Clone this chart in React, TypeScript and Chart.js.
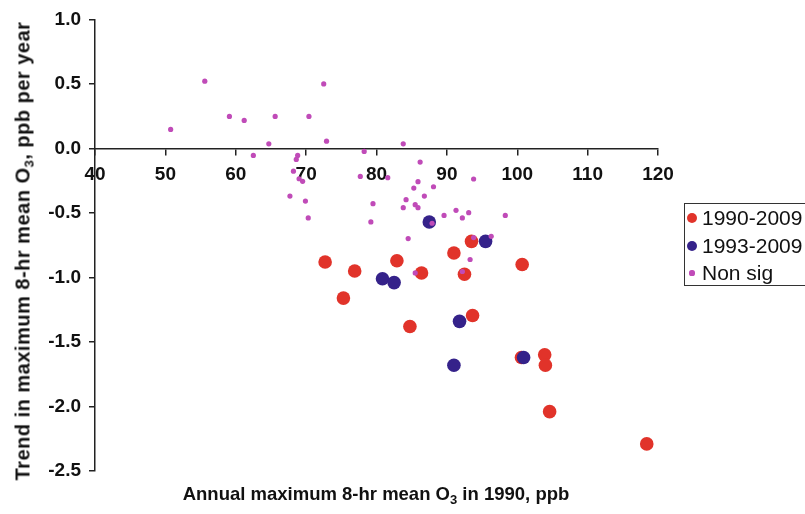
import React, { useEffect, useRef } from "react";
import { Chart, registerables } from "chart.js";

Chart.register(...registerables);

const FONT = '"Liberation Sans", Arial, Helvetica, sans-serif';

// Axis ranges / ticks
const xMin = 40;
const xMax = 120;
const xStep = 10;
const yMin = -2.5;
const yMax = 1.0;
const yStep = 0.5;

// Series labels
const seriesLabels = ["1990-2009", "1993-2009", "Non sig"];
const seriesColors = ["#E1332A", "#35228A", "#C04BB8"];

// 1990-2009 significant trends
const sig1990X = [72.7, 75.3, 76.9, 82.9, 84.75, 86.4, 91.0, 92.5, 93.5, 93.65, 100.6, 100.7, 103.9, 104.0, 104.6, 118.4];
const sig1990Y = [-0.88, -1.16, -0.95, -0.87, -1.38, -0.965, -0.81, -0.975, -0.72, -1.295, -1.62, -0.9, -1.6, -1.68, -2.04, -2.29];

// 1993-2009 significant trends
const sig1993X = [80.85, 82.5, 87.5, 91.0, 91.8, 95.5, 100.9];
const sig1993Y = [-1.01, -1.04, -0.57, -1.68, -1.34, -0.72, -1.62];

// Non significant trends
const nonSigX = [
  50.75, 55.6, 59.1, 61.2, 62.5, 64.7, 65.6, 67.7, 68.2, 68.6, 68.8, 69.0, 69.5, 69.9, 70.3, 70.4,
  72.5, 72.9, 77.7, 78.25, 79.2, 79.5, 81.6, 83.8, 83.8, 84.2, 84.5, 85.3, 85.5, 85.5, 85.9, 85.9,
  86.2, 86.8, 87.9, 88.1, 89.6, 91.3, 92.2, 92.2, 93.1, 93.3, 93.8, 93.8, 96.3, 98.3,
];
const nonSigY = [
  0.147, 0.521, 0.248, 0.217, -0.054, 0.036, 0.248, -0.369, -0.176, -0.085, -0.054, -0.235, -0.255, -0.408, -0.539, 0.248,
  0.5, 0.056, -0.217, -0.023, -0.57, -0.428, -0.227, 0.036, -0.459, -0.397, -0.699, -0.307, -0.436, -0.965, -0.258, -0.459,
  -0.106, -0.369, -0.58, -0.297, -0.519, -0.48, -0.539, -0.954, -0.498, -0.861, -0.237, -0.691, -0.681, -0.519,
];

const zip = (xs: number[], ys: number[]) => xs.map((x, i) => ({ x, y: ys[i] }));

export default function App() {
  const canvasRef = useRef<HTMLCanvasElement | null>(null);

  useEffect(() => {
    const canvas = canvasRef.current;
    if (!canvas) return;
    const axisColor = "#222";
    const tickFont = { family: FONT, size: 19, weight: "bold" as const };
    const chart = new Chart(canvas, {
      type: "scatter",
      data: {
        datasets: [
          {
            label: seriesLabels[0],
            data: zip(sig1990X, sig1990Y),
            backgroundColor: seriesColors[0],
            borderWidth: 0,
            pointRadius: 6.8,
            order: 3,
          },
          {
            label: seriesLabels[1],
            data: zip(sig1993X, sig1993Y),
            backgroundColor: seriesColors[1],
            borderWidth: 0,
            pointRadius: 6.8,
            order: 2,
          },
          {
            label: seriesLabels[2],
            data: zip(nonSigX, nonSigY),
            backgroundColor: seriesColors[2],
            borderWidth: 0,
            pointRadius: 2.6,
            order: 1,
          },
        ],
      },
      options: {
        animation: false,
        responsive: false,
        devicePixelRatio: 1,
        events: [],
        layout: { padding: { left: 0, top: 19, right: 147, bottom: 43 } },
        plugins: { legend: { display: false }, tooltip: { enabled: false } },
        scales: {
          x: {
            type: "linear",
            position: { y: 0 } as any,
            min: xMin,
            max: xMax,
            ticks: { stepSize: xStep, font: tickFont, color: "#111", padding: 9 },
            grid: { drawOnChartArea: false, drawTicks: true, tickLength: 6, color: axisColor, lineWidth: 1.5 },
            border: { display: true, color: axisColor, width: 1.5 },
          },
          y: {
            type: "linear",
            position: "left",
            min: yMin,
            max: yMax,
            afterFit: (s: any) => {
              s.width = 95;
            },
            ticks: {
              stepSize: yStep,
              font: tickFont,
              color: "#111",
              padding: 8,
              callback: (v: any) => Number(v).toFixed(1),
            },
            grid: { drawOnChartArea: false, drawTicks: true, tickLength: 6, color: axisColor, lineWidth: 1.5 },
            border: { display: true, color: axisColor, width: 1.5 },
          },
        },
      },
    });
    return () => chart.destroy();
  }, []);

  const legendRows = [218, 245.5, 273];
  const markerR = [5, 5, 2.6];

  return (
    <div
      style={{
        position: "fixed",
        left: 0,
        top: 0,
        width: 805,
        height: 514,
        overflow: "hidden",
        background: "#fff",
        fontFamily: FONT,
      }}
    >
      <canvas ref={canvasRef} width={805} height={514} style={{ position: "absolute", left: 0, top: 0 }} />
      {/* Y axis title */}
      <div
        style={{
          position: "absolute",
          left: 24,
          top: 251,
          transform: "translate(-50%, -50%) rotate(-90deg)",
          whiteSpace: "nowrap",
          fontWeight: "bold",
          fontSize: 20,
          letterSpacing: "0.5px",
          color: "#111",
        }}
      >
        Trend in maximum 8-hr mean O<sub style={{ fontSize: 13, verticalAlign: "-4px" }}>3</sub>, ppb per year
      </div>
      {/* X axis title */}
      <div
        style={{
          position: "absolute",
          left: 376,
          top: 495,
          transform: "translate(-50%, -50%)",
          whiteSpace: "nowrap",
          fontWeight: "bold",
          fontSize: 18.5,
          color: "#111",
        }}
      >
        Annual maximum 8-hr mean O<sub style={{ fontSize: 13, verticalAlign: "-4px" }}>3</sub> in 1990, ppb
      </div>
      {/* Legend */}
      <div
        style={{
          position: "absolute",
          left: 684,
          top: 203,
          width: 140,
          height: 83,
          border: "1.5px solid #333",
          boxSizing: "border-box",
        }}
      />
      {seriesLabels.map((lab, i) => (
        <React.Fragment key={lab}>
          <div
            style={{
              position: "absolute",
              left: 692 - markerR[i],
              top: legendRows[i] - markerR[i],
              width: markerR[i] * 2,
              height: markerR[i] * 2,
              borderRadius: "50%",
              background: seriesColors[i],
            }}
          />
          <div
            style={{
              position: "absolute",
              left: 702,
              top: legendRows[i] - 12,
              height: 24,
              lineHeight: "24px",
              fontSize: 21,
              color: "#111",
              whiteSpace: "nowrap",
            }}
          >
            {lab}
          </div>
        </React.Fragment>
      ))}
    </div>
  );
}
